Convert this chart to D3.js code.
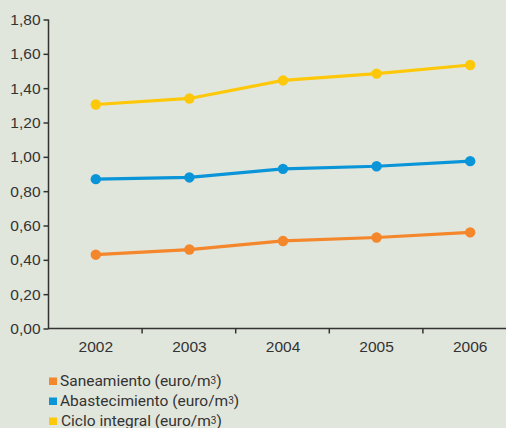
<!DOCTYPE html>
<html><head><meta charset="utf-8">
<script src="https://cdn.jsdelivr.net/npm/d3@7"></script>
<style>
html,body{margin:0;padding:0;background:#e1e6dc;}
svg{display:block;font-family:Roboto,"DejaVu Sans",sans-serif;}
</style></head>
<body>
<svg id="c" width="506" height="428"></svg>
<script>
const years = ["2002","2003","2004","2005","2006"];
const saneamiento = [0.43, 0.46, 0.51, 0.53, 0.56];
const abastecimiento = [0.87, 0.88, 0.93, 0.945, 0.975];
const cicloIntegral = [1.305, 1.34, 1.445, 1.485, 1.535];
const yTicks = [0,0.2,0.4,0.6,0.8,1.0,1.2,1.4,1.6,1.8];
const seriesNames = ["Saneamiento (euro/m","Abastecimiento (euro/m","Ciclo integral (euro/m"];
const colors = ["#f4862b","#0a95d8","#fdc80a"];

const svg = d3.select("#c");
const x = d3.scaleBand().domain(years).range([49, 517]);
const y = d3.scaleLinear().domain([0, 1.8]).range([328.5, 19.5]);

// y axis
const ya = svg.append("g").attr("transform","translate(48.5,0)")
  .call(d3.axisLeft(y).tickValues(yTicks).tickSize(5).tickFormat(d=>d3.format(".2f")(d).replace(".",",")));
ya.select(".domain").attr("stroke","#333").attr("stroke-width",1.5).attr("d","M0,19.5V328.5");
ya.selectAll(".tick line").attr("stroke","#333").attr("stroke-width",1.5);
ya.selectAll(".tick text").attr("fill","#333").attr("font-size",15.5).attr("x",-8);

// x axis
const xa = svg.append("g").attr("transform","translate(0,328.5)")
  .call(d3.axisBottom(x).tickSize(0).tickPadding(12));
xa.select(".domain").attr("stroke","#333").attr("stroke-width",1.5).attr("d","M48,0H506");
xa.selectAll(".tick text").attr("fill","#333").attr("font-size",15.5);
// separators between categories
const seps = years.slice(1).map(d=>x(d));
xa.selectAll(".sep").data(seps).enter().append("line")
  .attr("x1",d=>d-0.5).attr("x2",d=>d-0.5).attr("y1",0).attr("y2",5)
  .attr("stroke","#333").attr("stroke-width",1.5);

const cx = d=>x(d)+x.bandwidth()/2;
const allSeries = [saneamiento, abastecimiento, cicloIntegral];
const line = d3.line().x((d,i)=>cx(years[i])).y(d=>y(d));
allSeries.forEach((s,k)=>{
  svg.append("path").datum(s).attr("d",line).attr("fill","none")
    .attr("stroke",colors[k]).attr("stroke-width",3.2);
  svg.selectAll(null).data(s).enter().append("circle")
    .attr("cx",(d,i)=>cx(years[i])).attr("cy",d=>y(d)).attr("r",5.2).attr("fill",colors[k]);
});

// legend
const lg = svg.append("g");
seriesNames.forEach((n,k)=>{
  const yy = 385.5 + k*20;
  lg.append("rect").attr("x",49).attr("y",yy-8).attr("width",8).attr("height",7.5).attr("fill",colors[k]);
  const t = lg.append("text").attr("x", k===2?61:60).attr("y",yy).attr("font-size",15.5).attr("fill","#333");
  t.append("tspan").text(n);
  t.append("tspan").attr("font-size",10).attr("dy",-1.5).text("3");
  t.append("tspan").attr("dy",1.5).text(")");
});
</script>
</body></html>
